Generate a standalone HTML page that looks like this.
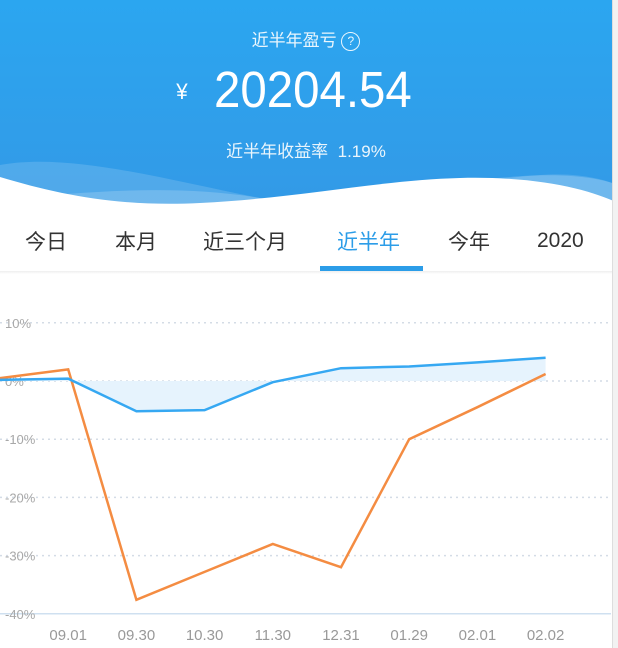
<!DOCTYPE html>
<html><head><meta charset="utf-8"><style>
body{margin:0;width:618px;height:648px;overflow:hidden;background:#fff;font-family:"Liberation Sans","Noto Sans CJK SC",sans-serif;position:relative}
.hdr{position:absolute;left:0;top:0;width:618px;height:215px;background:linear-gradient(180deg,#2ba6f0,#3399e6)}
.t{position:absolute;left:0;width:612px;text-align:center;color:#fff}
.tab{position:absolute;top:226px;font-size:21px;color:#333}
</style></head><body>
<div class="hdr"></div>
<svg style="position:absolute;left:0;top:150px" width="618" height="80">
<path d="M0 15 C80 0 200 40 300 55 C380 60 460 30 540 25 C580 22 605 30 618 35 L618 80 L0 80Z" fill="rgba(255,255,255,0.15)"/>
<path d="M0 50 C100 40 180 35 260 48 C330 58 400 40 480 30 C560 20 600 28 618 35 L618 80 L0 80Z" fill="rgba(255,255,255,0.18)"/>
<path d="M0 27 C60 45 120 57 200 53 C300 48 380 30 460 28 C540 26 590 40 618 53 L618 80 L0 80Z" fill="#fff"/>
</svg>
<div class="t" style="top:26px;font-size:17px;opacity:.9">近半年盈亏 <span style="display:inline-block;width:17px;height:17px;border:1.5px solid #fff;border-radius:50%;font-size:12px;line-height:17px;vertical-align:1px">?</span></div>
<div class="t" style="top:60px;font-size:51px;transform:scaleX(0.93);left:-12px"><span style="font-size:22px;vertical-align:8px">¥</span>&nbsp; 20204.54</div>
<div class="t" style="top:137px;font-size:17px;opacity:.9">近半年收益率 &nbsp;1.19%</div>
<div class="tab" style="left:25px">今日</div>
<div class="tab" style="left:115px">本月</div>
<div class="tab" style="left:203px">近三个月</div>
<div class="tab" style="left:337px;color:#2c9de8">近半年</div>
<div class="tab" style="left:448px">今年</div>
<div class="tab" style="left:537px;top:229px">2020</div>
<div style="position:absolute;left:320px;top:266px;width:103px;height:5px;background:#2c9de8"></div>
<div style="position:absolute;left:0;top:271px;width:612px;height:3px;background:linear-gradient(#eee,#fff)"></div>
<div style="position:absolute;left:612px;top:0;width:6px;height:648px;background:#f2f2f2;border-left:1px solid #ddd"></div>
<svg id="ch" style="position:absolute;left:0;top:0" width="612" height="648"></svg>
<script>
const ticks=[10,0,-10,-20,-30,-40];
const tickLabels=["10%","0%","-10%","-20%","-30%","-40%"];
const cats=["","09.01","09.30","10.30","11.30","12.31","01.29","02.01","02.02"];
const mine=[0.2,0.4,-5.2,-5.0,-0.2,2.2,2.5,3.2,4.0];
const bench=[0.5,2.0,-37.6,-32.8,-28,-32,-10,-4.5,1.2];
const NS="http://www.w3.org/2000/svg",svg=document.getElementById('ch');
const y=v=>381-v*5.82, x=i=>i*68.2;
function el(t,a,p){const e=document.createElementNS(NS,t);for(const k in a)e.setAttribute(k,a[k]);(p||svg).appendChild(e);return e;}
ticks.forEach((t,i)=>{
 const g=el('line',{x1:0,x2:611,y1:y(t),y2:y(t),stroke:t==-40?'#cfe0f0':'#d4dce6','stroke-width':1.5,'stroke-dasharray':t==-40?'':'2 4'});
 
 
 const l=el('text',{x:5,y:y(t)+5,'font-size':13,fill:'#a8a8a8'});l.textContent=tickLabels[i];
 
 
});
cats.forEach((c,i)=>{if(!c)return;const l=el('text',{x:x(i),y:640,'font-size':15,fill:'#999','text-anchor':'middle'});l.textContent=c;
 
 });
const pts=a=>a.map((v,i)=>x(i)+','+y(v)).join(' ');
const area=el('polygon',{points:pts(mine)+' '+x(mine.length-1)+','+y(0)+' 0,'+y(0),fill:'#e6f3fd'});


const b=el('polyline',{points:pts(bench),fill:'none',stroke:'#f48c42','stroke-width':2.5});


const m=el('polyline',{points:pts(mine),fill:'none',stroke:'#36a8f2','stroke-width':2.5});


</script>
</body></html>
